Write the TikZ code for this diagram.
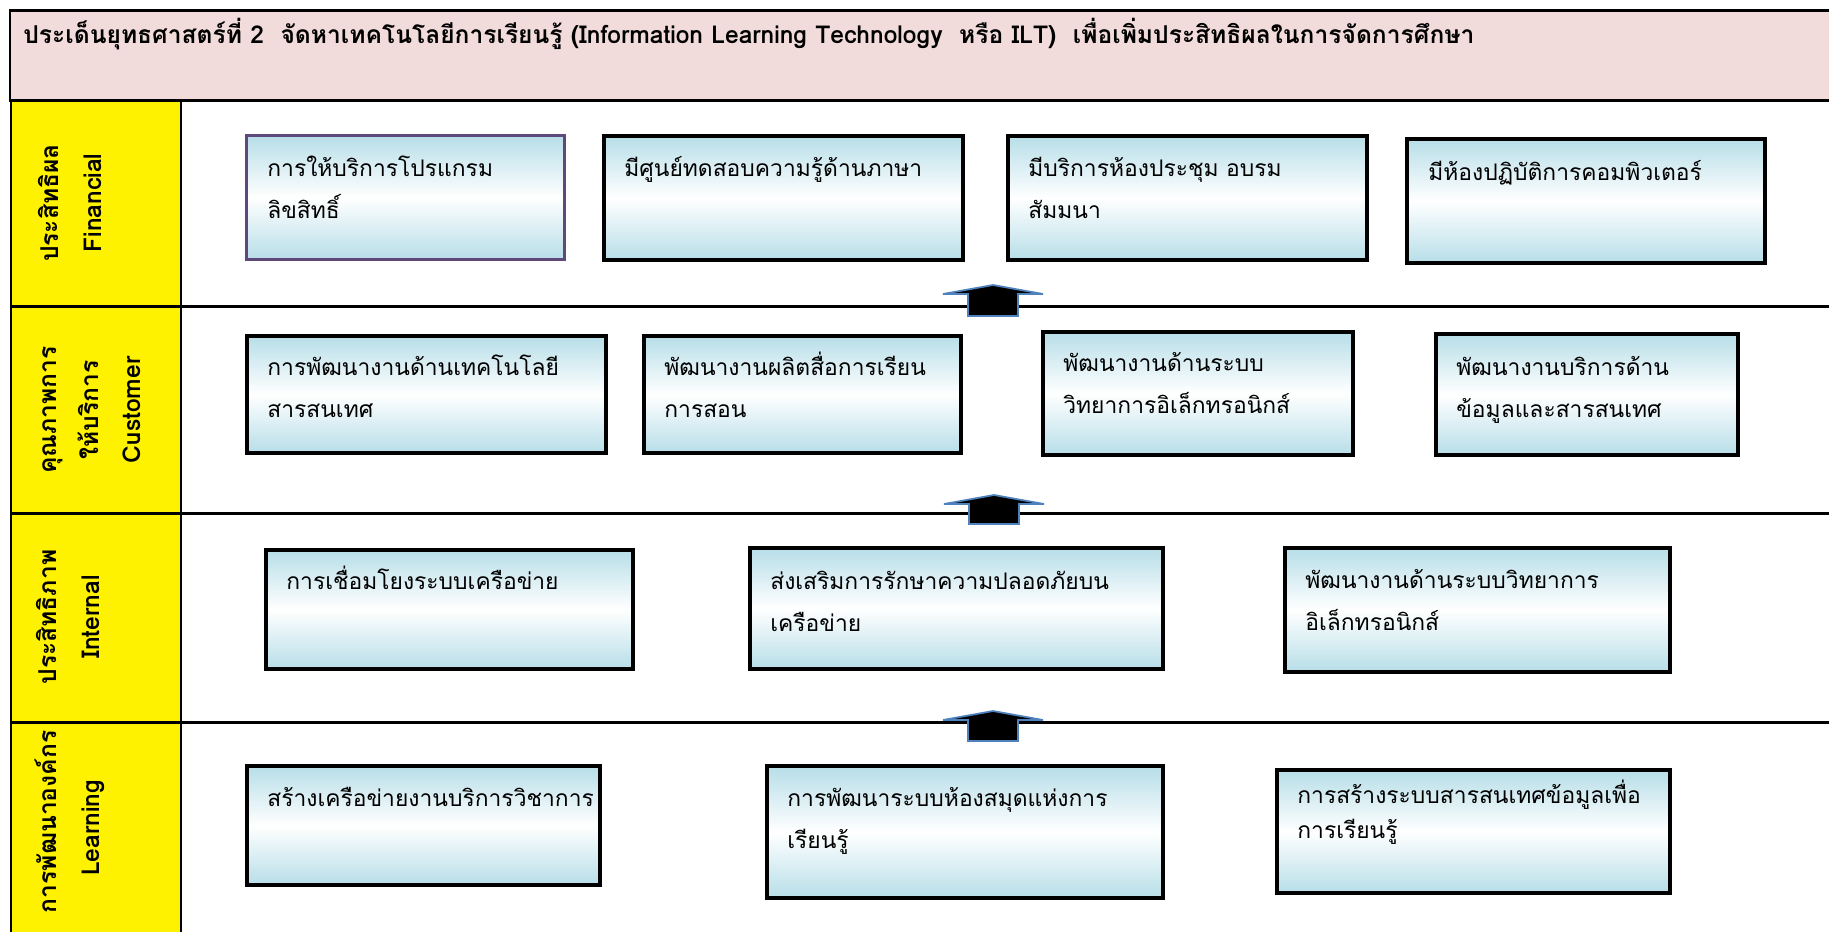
\documentclass[tikz,border=0pt]{standalone}
\usepackage{fontspec}
\newfontfamily\thaifont[Script=Thai]{Loma}
\usetikzlibrary{positioning}
\definecolor{headpink}{HTML}{F2DCDB}
\definecolor{boxblue}{HTML}{B7DEE8}
\definecolor{planpurple}{HTML}{5F497A}
\definecolor{arrowblue}{HTML}{4F81BD}
\tikzset{
  frame/.style={line width=1.7pt},
  stratbox/.style={draw=black, line width=2.3pt, top color=boxblue, bottom color=boxblue, middle color=white, inner sep=0pt, anchor=north west},
  boxtext/.style={font=\thaifont\fontsize{13}{24}\selectfont, text width=8.5cm, align=left, inner sep=0pt, anchor=base west},
  sidelabel/.style={font=\thaifont\bfseries\fontsize{14}{25}\selectfont, text width=3.4cm, align=center, rotate=90, inner sep=0pt, anchor=base},
  headtext/.style={font=\thaifont\bfseries\fontsize{14}{16}\selectfont, inner sep=0pt, anchor=base west},
  liftarrow/.style={fill=black, draw=arrowblue, line width=1pt}
}
\begin{document}
\begin{tikzpicture}[x=0.02cm, y=-0.02cm]
\useasboundingbox (0,0) rectangle (1829,931);
\fill[headpink] (10,10) rectangle (1850,100);
\fill[yellow] (11,100) rectangle (181,950);
\draw[frame] (1850,10) -- (10,10) -- (10,100) -- (1850,100);
\draw[frame] (11,100) -- (11,950) (181,100) -- (181,950);
\draw[frame] (11,306) -- (1850,306) (11,513) -- (1850,513) (11,722) -- (1850,722);
\node[headtext] (head) at (23,43) {ประเด็นยุทธศาสตร์ที่ 2~ จัดหาเทคโนโลยีการเรียนรู้ (Information Learning Technology~ หรือ ILT)~ เพื่อเพิ่มประสิทธิผลในการจัดการศึกษา};
\node[sidelabel] (lfin) at (58,203) {ประสิทธิผล\\Financial};
\node[sidelabel, font=\thaifont\bfseries\fontsize{14}{24}\selectfont] (lcus) at (56,410) {คุณภาพการ\\ให้บริการ\\Customer};
\node[sidelabel] (lint) at (56,617) {ประสิทธิภาพ\\Internal};
\node[sidelabel] (llrn) at (56,828) {การพัฒนาองค์กร\\Learning};
% financial
\node[stratbox, draw=planpurple, line width=1.7pt, minimum width=6.36cm, minimum height=2.48cm] (fin1) at (245,134) {};
\node[stratbox, minimum width=7.18cm, minimum height=2.48cm] (fin2) at (602,134) {};
\node[stratbox, minimum width=7.18cm, minimum height=2.48cm] (fin3) at (1006,134) {};
\node[stratbox, minimum width=7.16cm, minimum height=2.48cm] (fin4) at (1405,137) {};
% customer
\node[stratbox, minimum width=7.18cm, minimum height=2.34cm] (cus1) at (245,334) {};
\node[stratbox, minimum width=6.34cm, minimum height=2.34cm] (cus2) at (642,334) {};
\node[stratbox, minimum width=6.20cm, minimum height=2.46cm] (cus3) at (1041,330) {};
\node[stratbox, minimum width=6.04cm, minimum height=2.42cm] (cus4) at (1434,332) {};
% internal
\node[stratbox, minimum width=7.34cm, minimum height=2.38cm] (int1) at (264,548) {};
\node[stratbox, minimum width=8.26cm, minimum height=2.42cm] (int2) at (748,546) {};
\node[stratbox, minimum width=7.70cm, minimum height=2.48cm] (int3) at (1283,546) {};
% learning
\node[stratbox, minimum width=7.06cm, minimum height=2.38cm] (lrn1) at (245,764) {};
\node[stratbox, minimum width=7.92cm, minimum height=2.64cm] (lrn2) at (765,764) {};
\node[stratbox, minimum width=7.86cm, minimum height=2.46cm] (lrn3) at (1275,768) {};
\node[below right=0.84cm and 0.44cm of fin1.north west, boxtext] (fin1t) {การให้บริการโปรแกรม\\ลิขสิทธิ์};
\node[below right=0.84cm and 0.44cm of fin2.north west, boxtext] (fin2t) {มีศูนย์ทดสอบความรู้ด้านภาษา};
\node[below right=0.84cm and 0.44cm of fin3.north west, boxtext] (fin3t) {มีบริการห้องประชุม อบรม\\สัมมนา};
\node[below right=0.86cm and 0.46cm of fin4.north west, boxtext] (fin4t) {มีห้องปฏิบัติการคอมพิวเตอร์};
\node[below right=0.82cm and 0.44cm of cus1.north west, boxtext] (cus1t) {การพัฒนางานด้านเทคโนโลยี\\สารสนเทศ};
\node[below right=0.82cm and 0.44cm of cus2.north west, boxtext] (cus2t) {พัฒนางานผลิตสื่อการเรียน\\การสอน};
\node[below right=0.82cm and 0.44cm of cus3.north west, boxtext] (cus3t) {พัฒนางานด้านระบบ\\วิทยาการอิเล็กทรอนิกส์};
\node[below right=0.86cm and 0.44cm of cus4.north west, boxtext] (cus4t) {พัฒนางานบริการด้าน\\ข้อมูลและสารสนเทศ};
\node[below right=0.82cm and 0.44cm of int1.north west, boxtext] (int1t) {การเชื่อมโยงระบบเครือข่าย};
\node[below right=0.86cm and 0.44cm of int2.north west, boxtext] (int2t) {ส่งเสริมการรักษาความปลอดภัยบน\\เครือข่าย};
\node[below right=0.84cm and 0.44cm of int3.north west, boxtext] (int3t) {พัฒนางานด้านระบบวิทยาการ\\อิเล็กทรอนิกส์};
\node[below right=0.84cm and 0.44cm of lrn1.north west, boxtext] (lrn1t) {สร้างเครือข่ายงานบริการวิชาการ};
\node[below right=0.84cm and 0.44cm of lrn2.north west, boxtext] (lrn2t) {การพัฒนาระบบห้องสมุดแห่งการ\\เรียนรู้};
\node[below right=0.70cm and 0.44cm of lrn3.north west, boxtext, font=\thaifont\fontsize{13}{20}\selectfont] (lrn3t) {การสร้างระบบสารสนเทศข้อมูลเพื่อ\\การเรียนรู้};
\coordinate (up1) at (993,285);
\coordinate (up2) at (994,495);
\coordinate (up3) at (993,711);
\draw[liftarrow] (up1) -- ++(50,9) -- ++(-25,0) -- ++(0,22) -- ++(-50,0) -- ++(0,-22) -- ++(-25,0) -- cycle;
\draw[liftarrow] (up2) -- ++(50,9) -- ++(-25,0) -- ++(0,20) -- ++(-50,0) -- ++(0,-20) -- ++(-25,0) -- cycle;
\draw[liftarrow] (up3) -- ++(50,9) -- ++(-25,0) -- ++(0,21) -- ++(-50,0) -- ++(0,-21) -- ++(-25,0) -- cycle;
\end{tikzpicture}
\end{document}
